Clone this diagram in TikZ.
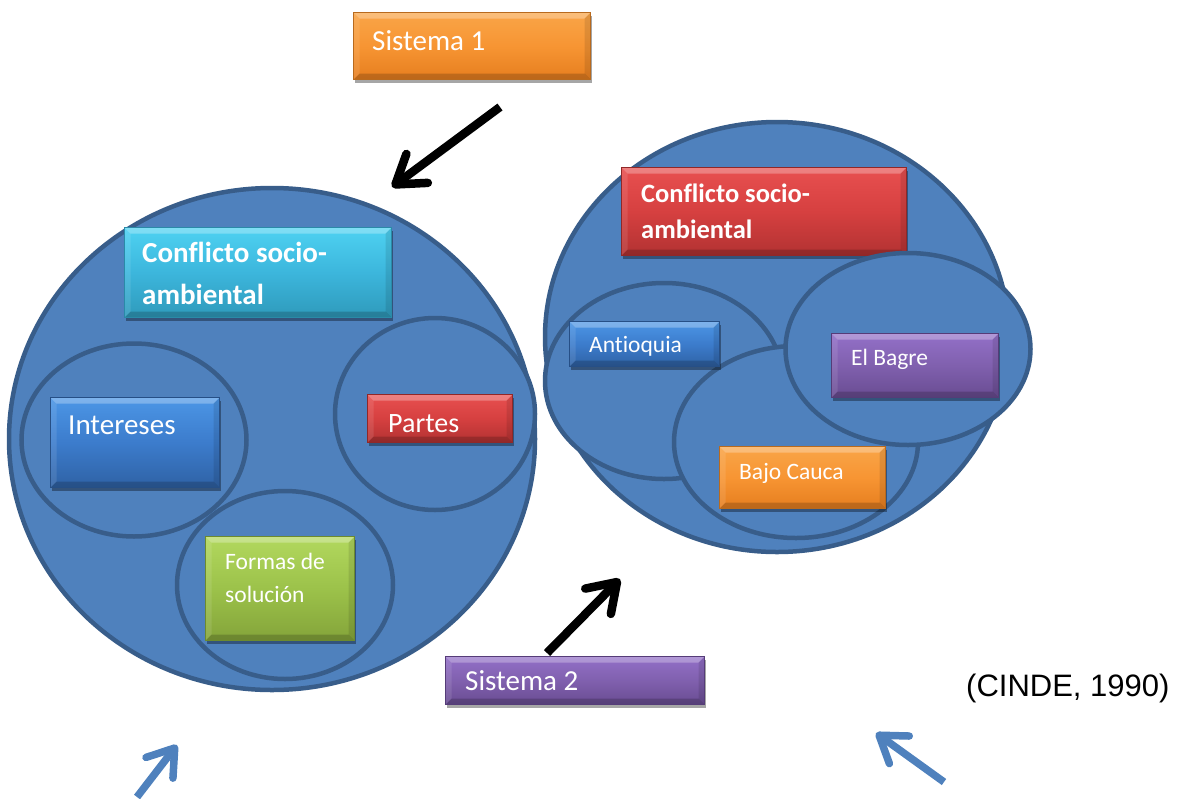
\documentclass[tikz,border=0pt]{standalone}
\usepackage{fontspec}
\setmainfont{Carlito}[Ligatures=NoCommon]
\newfontfamily\arialf{Liberation Sans}
\usetikzlibrary{shapes.geometric,shadows,arrows.meta}
\definecolor{circfill}{HTML}{4F81BD}
\definecolor{circline}{HTML}{385D8A}
\definecolor{oraT}{HTML}{F9A548}\definecolor{oraM}{HTML}{F79533}\definecolor{oraB}{HTML}{E67E1F}\definecolor{oraL}{HTML}{B86A1E}
\definecolor{cyaT}{HTML}{4ED2F2}\definecolor{cyaM}{HTML}{3CB6DC}\definecolor{cyaB}{HTML}{2F9ABB}\definecolor{cyaL}{HTML}{2A8AA8}
\definecolor{bluT}{HTML}{4C96E6}\definecolor{bluM}{HTML}{3C7CCC}\definecolor{bluB}{HTML}{2F62A5}\definecolor{bluL}{HTML}{264F86}
\definecolor{redT}{HTML}{E85050}\definecolor{redM}{HTML}{D64040}\definecolor{redB}{HTML}{B23232}\definecolor{redL}{HTML}{902828}
\definecolor{grnT}{HTML}{B2D85E}\definecolor{grnM}{HTML}{9CC24A}\definecolor{grnB}{HTML}{84A43A}\definecolor{grnL}{HTML}{6C8A2E}
\definecolor{purT}{HTML}{9370C8}\definecolor{purM}{HTML}{8060AE}\definecolor{purB}{HTML}{694C92}\definecolor{purL}{HTML}{553C78}
\tikzset{
  circ/.style={ellipse, draw=circline, fill=circfill, line width=4.5pt, inner sep=0pt},
  bevelbox/.style n args={4}{rectangle, inner sep=0pt, anchor=north west, draw=#4, line width=1pt,
    top color=#1, bottom color=#3, middle color=#2,
    drop shadow={shadow xshift=1.5pt, shadow yshift=-3pt, opacity=.35, fill=black},
    path picture={
      \fill[white,opacity=.28] (path picture bounding box.north west) -- (path picture bounding box.north east)
        -- ([shift={(-6pt,-6pt)}]path picture bounding box.north east) -- ([shift={(6pt,-6pt)}]path picture bounding box.north west) -- cycle;
      \fill[black,opacity=.18] (path picture bounding box.south west) -- (path picture bounding box.south east)
        -- ([shift={(-6pt,6pt)}]path picture bounding box.south east) -- ([shift={(6pt,6pt)}]path picture bounding box.south west) -- cycle;
      \fill[white,opacity=.10] (path picture bounding box.north west) -- ([shift={(6pt,-6pt)}]path picture bounding box.north west)
        -- ([shift={(6pt,6pt)}]path picture bounding box.south west) -- (path picture bounding box.south west) -- cycle;
      \fill[black,opacity=.10] (path picture bounding box.north east) -- ([shift={(-6pt,-6pt)}]path picture bounding box.north east)
        -- ([shift={(-6pt,6pt)}]path picture bounding box.south east) -- (path picture bounding box.south east) -- cycle;
    }},
  orabox/.style={bevelbox={oraT}{oraM}{oraB}{oraL}},
  cyabox/.style={bevelbox={cyaT}{cyaM}{cyaB}{cyaL}},
  blubox/.style={bevelbox={bluT}{bluM}{bluB}{bluL}},
  redbox/.style={bevelbox={redT}{redM}{redB}{redL}},
  grnbox/.style={bevelbox={grnT}{grnM}{grnB}{grnL}},
  purbox/.style={bevelbox={purT}{purM}{purB}{purL}},
  txt/.style={text=white, inner sep=0pt, anchor=base west},
  bigtxt/.style={txt, font=\fontsize{29}{42}\selectfont},
  smalltxt/.style={txt, font=\fontsize{23.5}{33}\selectfont},
  blackarrow/.style={draw=black, line width=8.5pt, -{Straight Barb[length=27pt,width=36pt,round]}},
  bluearrow/.style={draw=circfill, line width=7.5pt, -{Straight Barb[length=25pt,width=34pt,round]}}
}
\begin{document}
\begin{tikzpicture}[x=1pt,y=-1pt]
\useasboundingbox (0,0) rectangle (1180,798);

% Sistema 1
\node[orabox, minimum width=237pt, minimum height=67pt] (s1) at (353,12) {};
\node[bigtxt] (s1t) at (372,50) {Sistema 1};

% left system
\node[circ, minimum width=526pt, minimum height=502pt] (L) at (272,439) {};
\node[circ, minimum width=225pt, minimum height=193pt] (Lint) at (134,440) {};
\node[circ, minimum width=200pt, minimum height=192pt] (Lpar) at (435,414) {};
\node[circ, minimum width=216pt, minimum height=188pt] (Lfor) at (285,585) {};

\node[cyabox, minimum width=267pt, minimum height=90pt] (cb) at (124,227) {};
\node[txt, font=\bfseries\fontsize{29}{42}\selectfont] (cbt) at (142,262)
  {\begin{tabular}[t]{@{}l@{}}Conflicto socio-\\ambiental\end{tabular}};
\node[blubox, minimum width=169pt, minimum height=90pt] (ib) at (50,397) {};
\node[bigtxt] (ibt) at (68,434) {Intereses};
\node[redbox, minimum width=145pt, minimum height=48pt] (pb) at (367,394) {};
\node[bigtxt, font=\fontsize{28}{40}\selectfont] (pbt) at (388,432) {Partes};
\node[grnbox, minimum width=149pt, minimum height=104pt] (fb) at (205,536) {};
\node[smalltxt] (fbt) at (225,569)
  {\begin{tabular}[t]{@{}l@{}}Formas de\\solución\end{tabular}};

% right system
\node[circ, minimum width=464pt, minimum height=430pt] (R) at (777,337) {};
\node[redbox, minimum width=285pt, minimum height=88pt] (rb) at (621,167) {};
\node[txt, font=\bfseries\fontsize{26.5}{36}\selectfont] (rbt) at (641,202)
  {\begin{tabular}[t]{@{}l@{}}Conflicto socio-\\ambiental\end{tabular}};
\node[circ, minimum width=238pt, minimum height=196pt] (Rant) at (664,381) {};
\node[circ, minimum width=244pt, minimum height=192pt] (Rbaj) at (796,442) {};
\node[circ, minimum width=245pt, minimum height=192pt] (Rbag) at (908,349) {};
\node[blubox, minimum width=150pt, minimum height=45pt] (ab) at (569,321) {};
\node[smalltxt] (abt) at (589,352) {Antioquia};
\node[orabox, minimum width=166pt, minimum height=62pt] (bcb) at (719,446) {};
\node[smalltxt] (bcbt) at (739,479) {Bajo Cauca};
\node[purbox, minimum width=167pt, minimum height=64pt] (ebb) at (831,333) {};
\node[smalltxt] (ebbt) at (851,365) {El Bagre};

% Sistema 2
\node[purbox, minimum width=259pt, minimum height=48pt] (s2) at (445,656) {};
\node[bigtxt] (s2t) at (465,690) {Sistema 2};

% citation
\node[inner sep=0pt, anchor=base west, font=\arialf\fontsize{31}{37}\selectfont] (cite) at (966,696) {(CINDE, 1990)};

% arrows
\coordinate (a1s) at (500,107);
\coordinate (a1e) at (392,187);
\coordinate (a2s) at (547,653);
\coordinate (a2e) at (620,579);
\coordinate (b1s) at (137,797);
\coordinate (b1e) at (177,745);
\coordinate (b2s) at (944,782);
\coordinate (b2e) at (876,733);
\draw[blackarrow] (a1s) -- (a1e);
\draw[blackarrow] (a2s) -- (a2e);
\draw[bluearrow] (b1s) -- (b1e);
\draw[bluearrow] (b2s) -- (b2e);
\end{tikzpicture}
\end{document}
